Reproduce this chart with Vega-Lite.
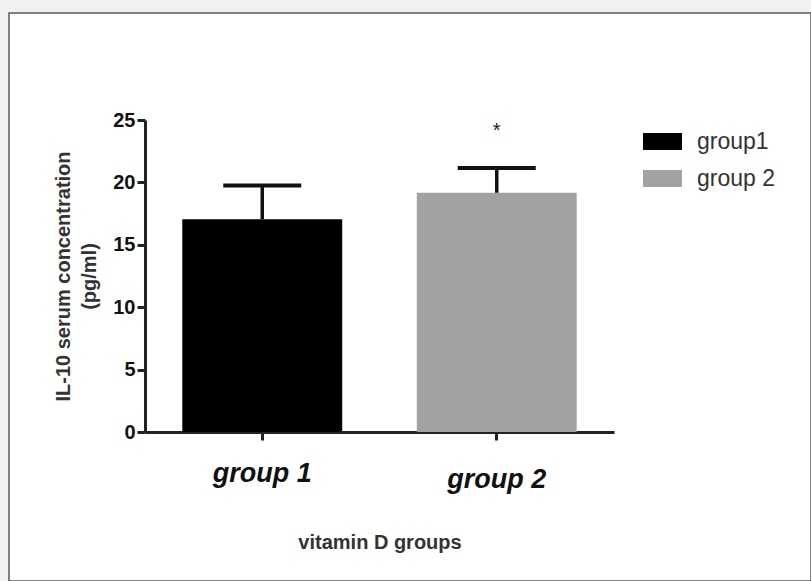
{
  "$schema": "https://vega.github.io/schema/vega-lite/v6.json",
  "width": 802,
  "height": 568,
  "autosize": "none",
  "padding": {"left": 9, "top": 13, "right": 0, "bottom": 0},
  "background": "#f2f2f2",
  "config": {
    "view": {"fill": "#ffffff", "stroke": "#5a5a5a", "strokeWidth": 1.5},
    "font": "Liberation Sans"
  },
  "data": {
    "values": [
      {"group": "group 1", "legend": "group1", "mean": 17.05, "upper": 19.75},
      {"group": "group 2", "legend": "group 2", "mean": 19.17, "upper": 21.16, "sig": "*", "sig_y": 23.6}
    ]
  },
  "encoding": {
    "x": {
      "field": "group",
      "type": "nominal",
      "sort": ["group 1", "group 2"],
      "scale": {"range": [136, 605], "paddingInner": 0.318, "paddingOuter": 0.159},
      "axis": {
        "title": "vitamin D groups",
        "titleFont": "Liberation Sans",
        "titleFontSize": 20,
        "titleFontWeight": "bold",
        "titleColor": "#333333",
        "titlePadding": 40,
        "offset": -149,
        "labelAngle": 0,
        "labelFont": "Liberation Sans",
        "labelFontSize": 27,
        "labelFontWeight": "bold",
        "labelFontStyle": "italic",
        "labelColor": "#111111",
        "labelPadding": {"condition": {"test": "datum.value === 'group 2'", "value": 26}, "value": 20.5},
        "domainColor": "#222222",
        "domainWidth": 3,
        "tickColor": "#222222",
        "tickWidth": 3,
        "tickSize": 8,
        "grid": false
      }
    }
  },
  "layer": [
    {
      "mark": {"type": "bar"},
      "encoding": {
        "y": {
          "field": "mean",
          "type": "quantitative",
          "title": ["IL-10 serum concentration", "(pg/ml)"],
          "scale": {"domain": [0, 25], "range": [419, 107], "nice": false, "zero": true},
          "axis": {
            "title": ["IL-10 serum concentration", "(pg/ml)"],
            "titleFont": "Liberation Sans",
            "titleFontSize": 20,
            "titleFontWeight": "bold",
            "titleColor": "#333333",
            "titleLineHeight": 26,
            "titlePadding": 13,
            "offset": -136,
            "values": [0, 5, 10, 15, 20, 25],
            "labelFont": "Liberation Sans",
            "labelFontSize": 20,
            "labelFontWeight": "bold",
            "labelColor": "#111111",
            "labelPadding": 2,
            "domainColor": "#222222",
            "domainWidth": 3,
            "tickColor": "#222222",
            "tickWidth": 3,
            "tickSize": 8,
            "grid": false
          }
        },
        "color": {
          "field": "legend",
          "type": "nominal",
          "scale": {"domain": ["group1", "group 2"], "range": ["#000000", "#a2a2a5"]},
          "legend": {
            "title": null,
            "orient": "none",
            "legendX": 634,
            "legendY": 109,
            "padding": 0,
            "symbolType": "M-1,-0.436H1V0.436H-1Z",
            "symbolSize": 1521,
            "symbolStrokeWidth": 0,
            "symbolOpacity": 1,
            "labelFont": "Liberation Sans",
            "labelFontSize": 23,
            "labelColor": "#333333",
            "labelOffset": 15,
            "rowPadding": 5
          }
        }
      }
    },
    {
      "mark": {"type": "rule", "strokeWidth": 3.5, "color": "#111111"},
      "encoding": {
        "y": {"field": "mean", "type": "quantitative", "title": ["IL-10 serum concentration", "(pg/ml)"]},
        "y2": {"field": "upper"}
      }
    },
    {
      "mark": {"type": "tick", "orient": "horizontal", "size": 78, "thickness": 4, "color": "#111111", "opacity": 1},
      "encoding": {
        "y": {"field": "upper", "type": "quantitative", "title": ["IL-10 serum concentration", "(pg/ml)"]}
      }
    },
    {
      "transform": [{"filter": "isValid(datum.sig)"}],
      "mark": {"type": "text", "fontSize": 20, "color": "#222222", "baseline": "alphabetic", "font": "Liberation Sans"},
      "encoding": {
        "y": {"field": "sig_y", "type": "quantitative", "title": ["IL-10 serum concentration", "(pg/ml)"]},
        "text": {"field": "sig"}
      }
    }
  ]
}
